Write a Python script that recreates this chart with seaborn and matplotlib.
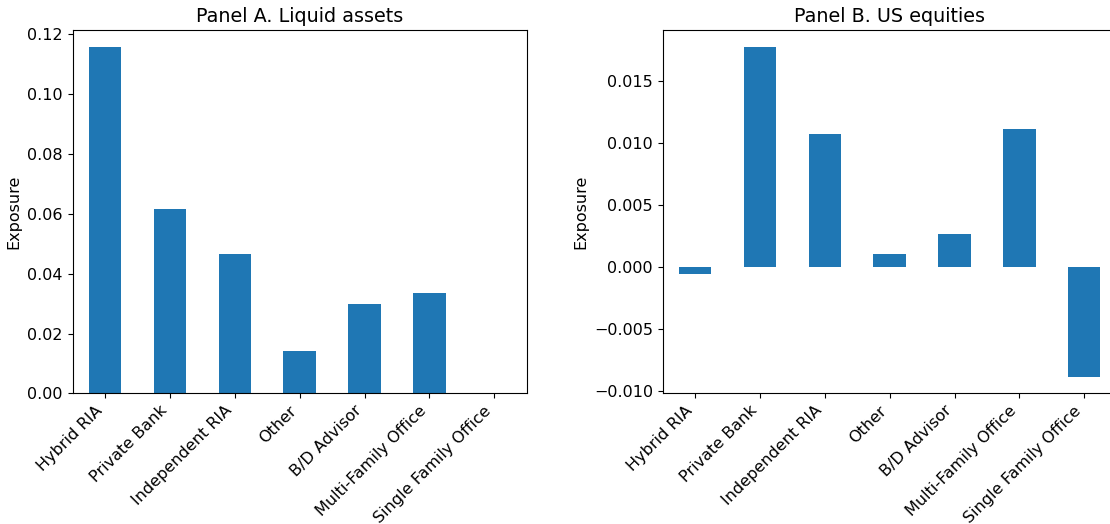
import matplotlib
matplotlib.use("Agg")
import matplotlib.pyplot as plt
import seaborn as sns
import pandas as pd

# Advisor channels shown on both panels
categories = [
    "Hybrid RIA",
    "Private Bank",
    "Independent RIA",
    "Other",
    "B/D Advisor",
    "Multi-Family Office",
    "Single Family Office",
]

# Exposure estimates per channel
liquid_assets = [0.1157, 0.0617, 0.0466, 0.0142, 0.0298, 0.0337, 0.0]
us_equities = [-0.00057, 0.0178, 0.01077, 0.00102, 0.00269, 0.01112, -0.00886]

panel_titles = ["Panel A. Liquid assets", "Panel B. US equities"]

base_size = 11.5
plt.rcParams.update({"font.size": base_size, "font.family": ["DejaVu Sans"]})

fig = plt.figure(figsize=(11.1, 5.24), dpi=100)
ax_a = fig.add_axes([0.0655, 0.2494, 0.409, 0.6933])
ax_b = fig.add_axes([0.5970, 0.2494, 0.409, 0.6933])

bar_color = "#1f77b4"
for ax, values, title in zip((ax_a, ax_b), (liquid_assets, us_equities), panel_titles):
    df = pd.DataFrame({"channel": categories, "exposure": values})
    sns.barplot(
        data=df,
        x="channel",
        y="exposure",
        color=bar_color,
        saturation=1,
        width=0.5,
        errorbar=None,
        ax=ax,
    )
    ax.set_title(title, fontsize=base_size * 1.2)
    ax.set_xlabel("")
    ax.set_ylabel("Exposure", fontsize=base_size)
    ax.tick_params(axis="both", labelsize=base_size)
    plt.setp(ax.get_xticklabels(), rotation=45, ha="right")

fig.savefig("out.png", dpi=100)
